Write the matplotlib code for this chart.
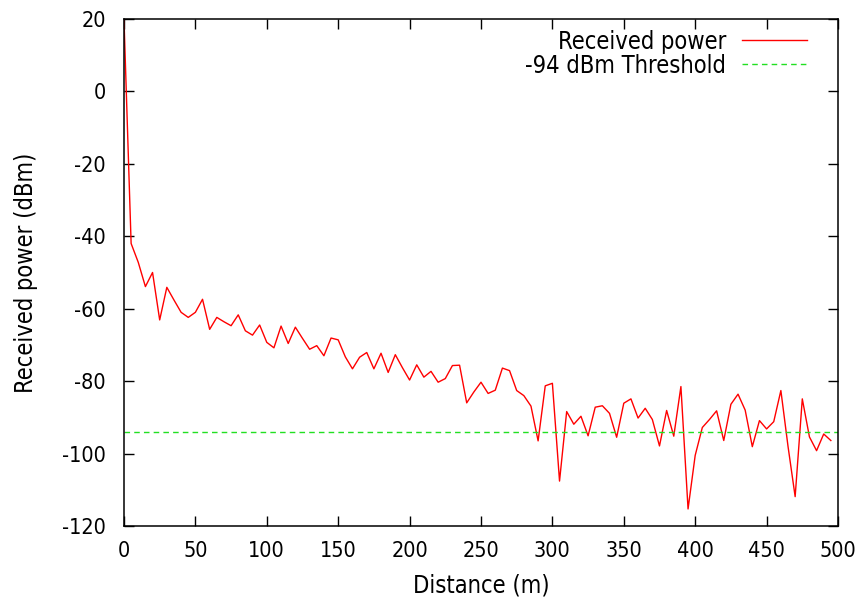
import numpy as np
import matplotlib
matplotlib.use("Agg")
import matplotlib.pyplot as plt

# distance steps of 5 m, received power in dBm
distance = np.arange(0, 500, 5)
power = [
    20.0, -42.0, -47.2, -53.9, -50.0, -63.1, -54.1, -57.6, -61.0, -62.4,
    -61.0, -57.4, -65.7, -62.4, -63.6, -64.7, -61.7, -66.1, -67.3, -64.5,
    -69.3, -70.8, -64.8, -69.6, -65.1, -68.2, -71.2, -70.2, -73.0, -68.1,
    -68.6, -73.3, -76.6, -73.4, -72.1, -76.6, -72.3, -77.6, -72.7, -76.3,
    -79.7, -75.5, -78.9, -77.3, -80.3, -79.3, -75.7, -75.6, -86.0, -83.0,
    -80.3, -83.4, -82.5, -76.4, -77.1, -82.6, -84.0, -86.9, -96.5, -81.3,
    -80.6, -107.6, -88.4, -91.9, -89.7, -95.1, -87.2, -86.8, -88.9, -95.5,
    -86.1, -84.9, -90.2, -87.5, -90.6, -97.9, -88.1, -95.2, -81.5, -115.3,
    -100.5, -92.8, -90.6, -88.2, -96.4, -86.4, -83.6, -88.0, -98.1, -90.9,
    -93.2, -91.2, -82.6, -98.0, -111.9, -84.9, -95.4, -99.2, -94.6, -96.4,
]
threshold = -94
xticks = np.arange(0, 501, 50)
yticks = np.arange(-120, 21, 20)

plt.rcParams["font.family"] = "DejaVu Sans"
plt.rcParams["font.stretch"] = "condensed"
plt.rcParams["axes.unicode_minus"] = False
tick_fs = 15.5
fs = 17

fig = plt.figure(figsize=(8.64, 5.99), dpi=100)
ax = fig.add_axes([0.1435, 0.1219, 0.8264, 0.8464])

ax.plot(distance, power, color="#ff0000", lw=1.0, label="Received power")
ax.axhline(threshold, color="#22e022", lw=1.0, ls=(0, (4, 3)),
           label="-94 dBm Threshold")

ax.set_xlim(0, 500)
ax.set_ylim(-120, 20)
ax.set_xticks(xticks)
ax.set_yticks(yticks)
ax.tick_params(direction="in", length=7, width=1, top=True, right=True,
               labelsize=tick_fs)
ax.tick_params(axis="y", pad=13)
ax.tick_params(axis="x", pad=11)
for s in ax.spines.values():
    s.set_linewidth(1.1)

ax.set_xlabel("Distance (m)", fontsize=fs, labelpad=9)
ax.set_ylabel("Received power (dBm)", fontsize=fs, labelpad=17)

ax.legend(loc="upper right", bbox_to_anchor=(0.9566, 0.979), frameon=False,
          markerfirst=False, fontsize=fs, handlelength=2.75,
          handletextpad=0.68, labelspacing=0.0, borderpad=0,
          borderaxespad=0)

fig.savefig("out.png", dpi=100)
